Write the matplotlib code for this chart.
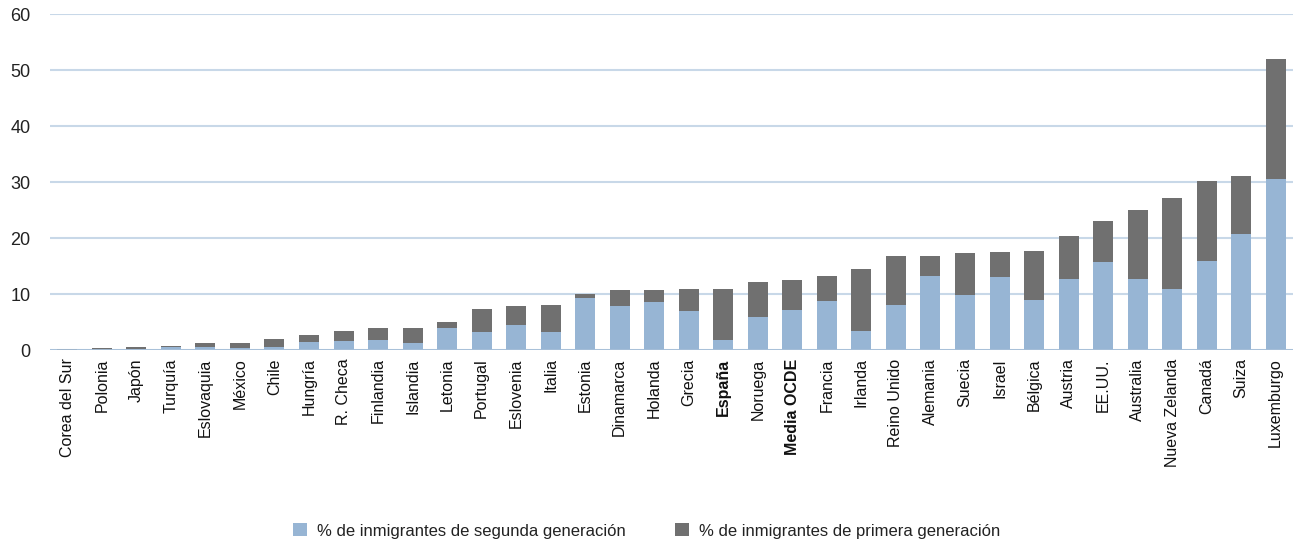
import matplotlib
matplotlib.use("Agg")
import matplotlib.pyplot as plt
import numpy as np

# Data
paises = ["Corea del Sur", "Polonia", "Japón", "Turquía", "Eslovaquia", "México",
          "Chile", "Hungría", "R. Checa", "Finlandia", "Islandia", "Letonia",
          "Portugal", "Eslovenia", "Italia", "Estonia", "Dinamarca", "Holanda",
          "Grecia", "España", "Noruega", "Media OCDE", "Francia", "Irlanda",
          "Reino Unido", "Alemania", "Suecia", "Israel", "Bélgica", "Austria",
          "EE.UU.", "Australia", "Nueva Zelanda", "Canadá", "Suiza", "Luxemburgo"]

segunda = [0.0, 0.05, 0.15, 0.5, 0.5, 0.35, 0.5, 1.4, 1.6, 1.8, 1.25, 3.9,
           3.2, 4.5, 3.2, 9.3, 7.9, 8.6, 7.0, 1.8, 5.9, 7.1, 8.75, 3.4,
           8.0, 13.2, 9.8, 13.0, 8.9, 12.7, 15.7, 12.7, 10.9, 15.9, 20.7, 30.5]

total = [0.15, 0.36, 0.5, 0.7, 1.25, 1.25, 2.0, 2.7, 3.4, 3.9, 3.9, 5.0,
         7.3, 7.9, 8.0, 10.0, 10.7, 10.7, 10.9, 10.9, 12.1, 12.5, 13.2, 14.5,
         16.8, 16.8, 17.3, 17.5, 17.7, 20.4, 23.0, 25.0, 27.1, 30.2, 31.1, 52.0]

primera = [t - s for t, s in zip(total, segunda)]
destacados = ["España", "Media OCDE"]

azul = "#97b5d4"
gris = "#707070"

plt.rcParams["font.family"] = ["Liberation Sans", "DejaVu Sans"]

fig = plt.figure(figsize=(12.93, 5.47), dpi=100)
ax = fig.add_axes([0.0387, 0.36, 0.9613, 0.614])

x = np.arange(len(paises))
ax.bar(x, segunda, width=0.58, color=azul, label="% de inmigrantes de segunda generación", zorder=3)
ax.bar(x, primera, width=0.58, bottom=segunda, color=gris, label="% de inmigrantes de primera generación", zorder=3)

ax.set_ylim(0, 60)
ax.set_xlim(-0.5, 35.5)
ax.set_yticks(range(0, 61, 10))
ax.yaxis.grid(True, color="#c8d8e8", linewidth=1.5, zorder=0)
ax.axhline(0, color="#a6bfd8", linewidth=2, zorder=4)
for s in ax.spines.values():
    s.set_visible(False)
ax.tick_params(axis="both", length=0, labelsize=13, colors="#222222")
ax.tick_params(axis="y", pad=14)
ax.set_xticks(x)
ax.set_xticklabels(paises, rotation=90, fontsize=11.5, color="#111111")
for lab in ax.get_xticklabels():
    if lab.get_text() in destacados:
        lab.set_fontweight("bold")
ax.tick_params(axis="x", pad=6)

fig.legend(loc="lower center", bbox_to_anchor=(0.5, -0.012), ncol=2, frameon=False,
           fontsize=12, handlelength=0.8, handleheight=0.8, columnspacing=3.0,
           handletextpad=0.6, labelcolor="#222222")

fig.savefig("out.png", dpi=100)
